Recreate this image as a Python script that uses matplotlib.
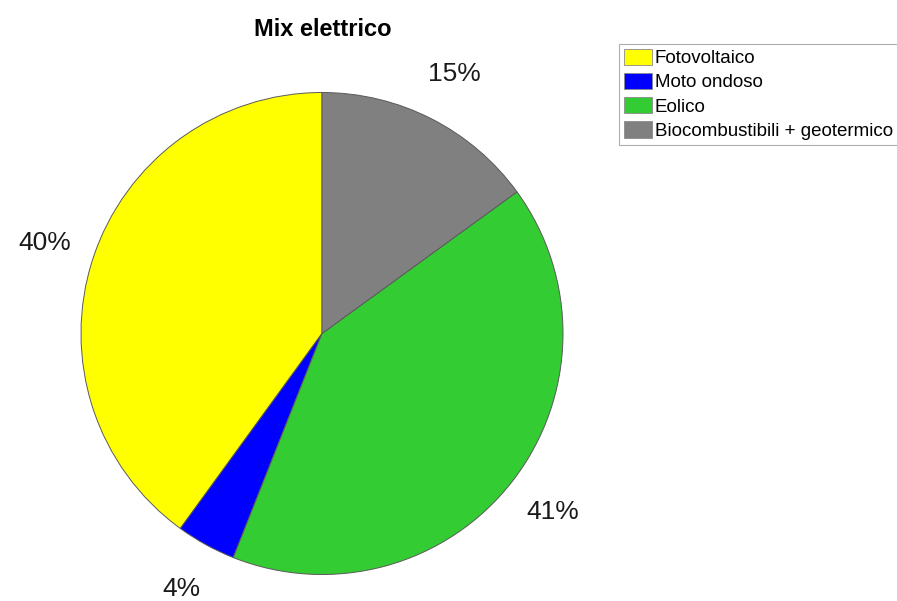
import matplotlib
matplotlib.use("Agg")
import matplotlib.pyplot as plt

plt.rcParams['font.family'] = ['Liberation Sans', 'DejaVu Sans']

labels = ["Fotovoltaico", "Moto ondoso", "Eolico", "Biocombustibili + geotermico"]
values = [40, 4, 41, 15]
colors = ["#FFFF00", "#0000FF", "#33CC33", "#808080"]
title = "Mix elettrico"

W, H = 897, 601
fig = plt.figure(figsize=(W / 100, H / 100), dpi=100)

cx, cy, r = 322, 333.5, 241
ax = fig.add_axes([(cx - r) / W, (H - cy - r) / H, 2 * r / W, 2 * r / H])

wedges, texts = ax.pie(
    values,
    colors=colors,
    startangle=90,
    counterclock=True,
    radius=1.0,
    wedgeprops=dict(edgecolor="#5a5a5a", linewidth=0.7),
    labels=[f"{v}%" for v in values],
    labeldistance=1.21,
    textprops=dict(fontsize=19, color="#1a1a1a"),
)
for t in texts:
    t.set_horizontalalignment("center")
    t.set_verticalalignment("center")
ax.set_aspect("equal")
ax.set_xlim(-1, 1)
ax.set_ylim(-1, 1)

fig.text(322.5 / W, 1 - 27 / H, title, ha="center", va="center_baseline",
         fontsize=17, fontweight="bold")

leg = fig.legend(
    wedges, labels,
    loc="upper left",
    bbox_to_anchor=(619 / W, 1 - 44 / H),
    fontsize=13.5,
    frameon=True,
    fancybox=False,
    handlelength=1.5,
    handleheight=0.96,
    handletextpad=0.16,
    labelspacing=0.3,
    borderpad=0.25,
    borderaxespad=0.0,
)
leg.get_frame().set_edgecolor("#999999")
leg.get_frame().set_linewidth(0.8)
for h in leg.legend_handles:
    h.set_edgecolor("#8a8a8a")
    h.set_linewidth(0.6)

fig.savefig("out.png", dpi=100)
